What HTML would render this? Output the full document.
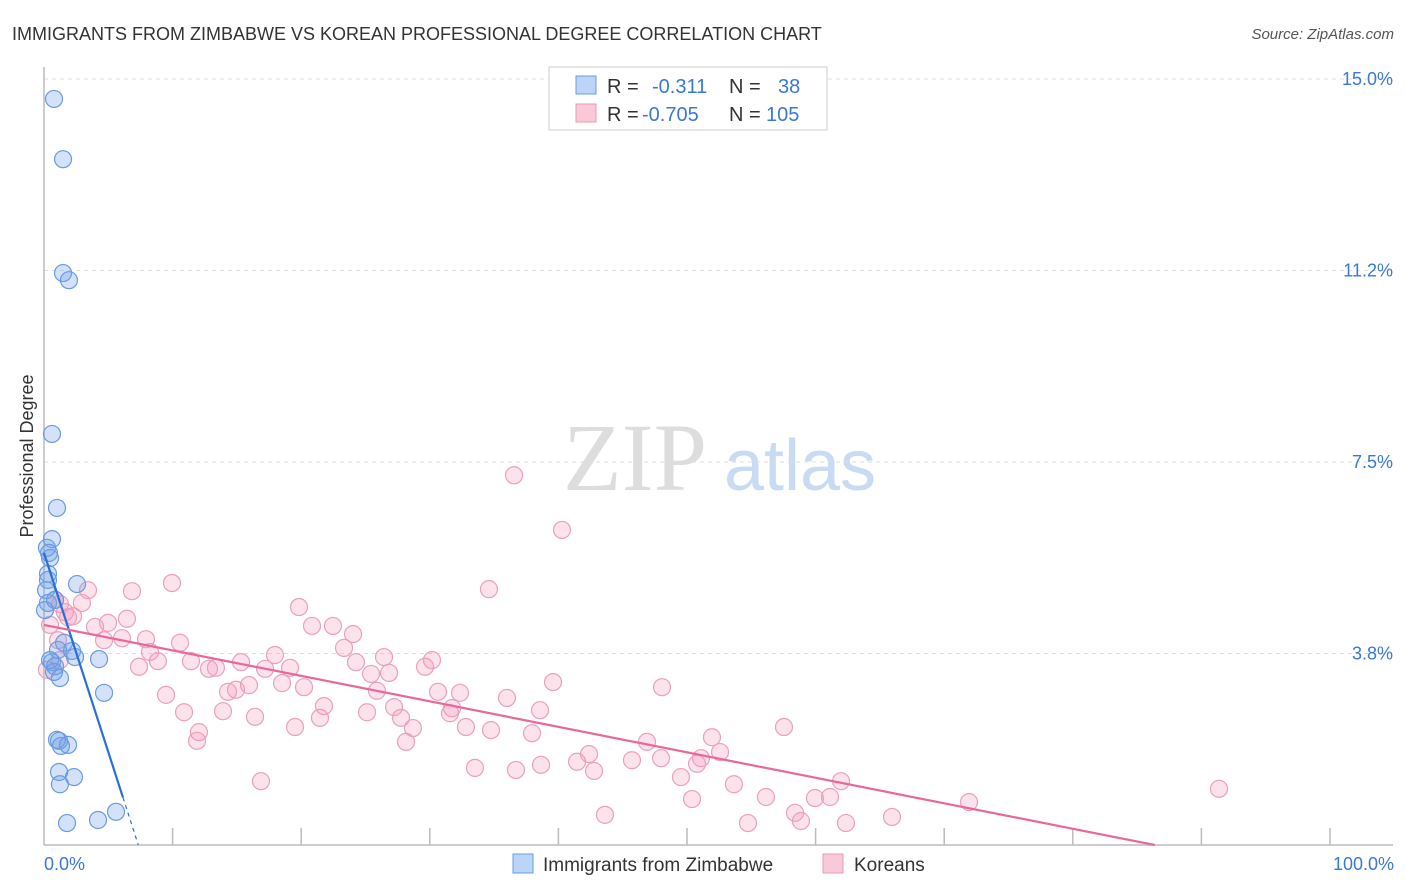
<!DOCTYPE html>
<html><head><meta charset="utf-8"><style>
body{margin:0;background:#fff;font-family:"Liberation Sans",sans-serif;}
svg{display:block}
</style></head><body>
<svg id="chart" width="1406" height="892" font-family="Liberation Sans, sans-serif">
<text x="12" y="40" font-size="18" fill="#333">IMMIGRANTS FROM ZIMBABWE VS KOREAN PROFESSIONAL DEGREE CORRELATION CHART</text>
<text x="1394" y="39" font-size="15" fill="#555" text-anchor="end" font-style="italic">Source: ZipAtlas.com</text>
<g>
<text x="635" y="490" font-size="96" font-family="Liberation Serif, serif" fill="#ddd" text-anchor="middle">ZIP</text>
<text x="800" y="490" font-size="72" fill="#c9daf3" text-anchor="middle">atlas</text>
</g>
<g id="grid"></g>
<g id="axes"></g>
<text transform="translate(33,456) rotate(-90)" font-size="18" fill="#333" text-anchor="middle">Professional Degree</text>
<g id="pink"></g>
<g id="blue"></g>
<g id="trends"></g>
<g>
<rect x="549" y="67" width="278" height="63" fill="#fff" stroke="#ccc"/>
<rect x="576" y="76" width="20" height="18" fill="#bcd4f5" stroke="#6a9be0"/>
<rect x="576" y="104" width="20" height="18" fill="#f9c9d8" stroke="#e89ab4"/>
<text x="607" y="93" font-size="20" fill="#333">R =</text>
<text x="652" y="93" font-size="20" fill="#3a78d6">-0.311</text>
<text x="729" y="93" font-size="20" fill="#333">N =</text>
<text x="778" y="93" font-size="20" fill="#3a78d6">38</text>
<text x="607" y="121" font-size="20" fill="#333">R =</text>
<text x="642" y="121" font-size="20" fill="#3a78d6">-0.705</text>
<text x="729" y="121" font-size="20" fill="#333">N =</text>
<text x="766" y="121" font-size="20" fill="#3a78d6">105</text>
</g>
<g>
<rect x="513" y="854" width="20" height="19" fill="#bcd4f5" stroke="#6a9be0"/>
<text x="543" y="871" font-size="19" fill="#333">Immigrants from Zimbabwe</text>
<rect x="823" y="854" width="20" height="19" fill="#f9c9d8" stroke="#e89ab4"/>
<text x="854" y="871" font-size="19" fill="#333">Koreans</text>
</g>
<text x="44" y="870" font-size="18" fill="#3a78d6">0.0%</text>
<text x="1394" y="870" font-size="18" fill="#3a78d6" text-anchor="end">100.0%</text>
</svg>
<script>
const yTicks=[15,11.25,7.5,3.75];
const yTickLabels=["15.0%","11.2%","7.5%","3.8%"];
const xTicks=[10,20,30,40,50,60,70,80,90,100];
const blueX=[0.78,1.48,1.48,1.94,0.62,1.01,0.62,0.23,0.39,0.47,0.31,0.16,2.57,0.31,0.86,1.56,1.09,2.18,2.41,4.28,0.62,0.86,1.24,0.78,4.67,1.01,1.17,1.87,1.32,1.17,2.33,1.24,1.79,4.20,5.60,0.31,0.47,0.08];
const blueY=[14.61,13.43,11.20,11.06,8.05,6.60,5.99,5.82,5.72,5.62,5.31,4.99,5.11,4.74,4.80,3.96,3.82,3.80,3.68,3.64,3.58,3.50,3.27,3.39,2.98,2.06,2.04,1.96,1.94,1.43,1.33,1.19,0.43,0.49,0.65,5.19,3.62,4.60];
const pinkX=[36.55,40.28,34.60,9.95,6.84,3.42,2.95,19.83,6.45,4.98,3.97,1.24,0.86,1.87,2.26,1.63,24.03,22.47,20.84,4.67,6.07,7.93,10.58,8.24,11.43,8.86,7.39,15.32,17.19,19.13,17.96,23.33,24.26,26.44,30.17,29.63,25.43,26.83,12.83,13.37,9.49,14.93,14.31,15.94,18.51,20.22,25.89,30.64,32.35,36.00,39.58,48.06,10.89,13.92,16.41,12.05,11.90,19.52,21.77,21.46,25.12,27.22,27.76,28.69,31.57,31.73,32.81,34.76,38.57,37.95,28.15,46.89,42.38,41.45,45.72,47.98,51.09,50.78,51.94,52.57,57.54,61.98,61.12,59.95,56.14,53.65,49.53,33.51,36.70,38.65,42.77,50.39,16.87,43.62,54.74,58.40,58.86,62.36,65.94,71.93,91.37,0.23,0.47,1.24,1.09];
const pinkY=[7.24,6.17,5.01,5.13,4.97,4.99,4.74,4.66,4.43,4.35,4.27,4.72,4.80,4.46,4.48,4.56,4.13,4.29,4.29,4.01,4.05,4.03,3.96,3.78,3.60,3.60,3.49,3.58,3.45,3.47,3.72,3.86,3.58,3.68,3.62,3.49,3.35,3.37,3.45,3.47,2.94,3.04,3.00,3.13,3.17,3.09,3.02,3.00,2.98,2.88,3.19,3.09,2.60,2.62,2.51,2.21,2.04,2.31,2.72,2.49,2.60,2.70,2.49,2.29,2.58,2.68,2.31,2.25,2.64,2.19,2.02,2.02,1.78,1.63,1.66,1.70,1.70,1.59,2.11,1.82,2.31,1.25,0.94,0.92,0.94,1.19,1.33,1.51,1.47,1.57,1.45,0.90,1.25,0.59,0.43,0.63,0.47,0.43,0.55,0.84,1.10,3.43,4.31,3.62,4.01];
const blueTrend=[5.72,-0.78]; // intercept, slope (per % x)
const blueSolidEnd=6.14;
const pinkTrend=[4.31,-0.0499];
const NS='http://www.w3.org/2000/svg';
const X0=44,X1=1330,Y0=845,Y15=79;
const xs=v=>X0+(X1-X0)*v/100;
const ys=v=>Y0-(Y0-Y15)*v/15;
function mk(tag,attrs,parent){const e=document.createElementNS(NS,tag);for(const k in attrs)e.setAttribute(k,attrs[k]);parent.appendChild(e);return e;}
const grid=document.getElementById('grid');
yTicks.forEach((t,i)=>{
 const l=mk('line',{x1:X0,x2:1393,y1:ys(t),y2:ys(t),stroke:'#ddd','stroke-dasharray':'4,4'},grid);
 
 
 const tx=mk('text',{x:1393,y:ys(t)+6,'font-size':18,fill:'#3a78d6','text-anchor':'end'},grid);
 tx.textContent=yTickLabels[i];
 
 
});
const axes=document.getElementById('axes');
const ya=mk('line',{x1:X0,x2:X0,y1:67,y2:Y0,stroke:'#bbb','stroke-width':1.5},axes);


const xa=mk('line',{x1:X0,x2:1393,y1:Y0,y2:Y0,stroke:'#bbb','stroke-width':1.5},axes);


xTicks.forEach(t=>{
 const tk=mk('line',{x1:xs(t),x2:xs(t),y1:828,y2:Y0,stroke:'#bbb','stroke-width':1.5},axes);
 
 
});
const pg=document.getElementById('pink');
pinkX.forEach((x,i)=>{
 const c=mk('circle',{cx:xs(x),cy:ys(pinkY[i]),r:8.5,fill:'rgba(244,160,188,0.3)',stroke:'#eba0ba','stroke-width':1.2},pg);
 
 
});
const bg=document.getElementById('blue');
blueX.forEach((x,i)=>{
 const c=mk('circle',{cx:xs(x),cy:ys(blueY[i]),r:8.5,fill:'rgba(110,160,232,0.3)',stroke:'#6a9be0','stroke-width':1.2},bg);
 
 
});
const tg=document.getElementById('trends');
const bz=-blueTrend[0]/blueTrend[1];
const b1=mk('line',{x1:xs(0),y1:ys(blueTrend[0]),x2:xs(blueSolidEnd),y2:ys(blueTrend[0]+blueTrend[1]*blueSolidEnd),stroke:'#2a6fd6','stroke-width':2.2},tg);


const b2=mk('line',{x1:xs(blueSolidEnd),y1:ys(blueTrend[0]+blueTrend[1]*blueSolidEnd),x2:xs(bz),y2:ys(0),stroke:'#2a6fd6','stroke-width':1.2,'stroke-dasharray':'4,4'},tg);


const pz=-pinkTrend[0]/pinkTrend[1];
const p1=mk('line',{x1:xs(0),y1:ys(pinkTrend[0]),x2:xs(pz),y2:ys(0),stroke:'#e8689a','stroke-width':2.2},tg);


</script>
</body></html>
